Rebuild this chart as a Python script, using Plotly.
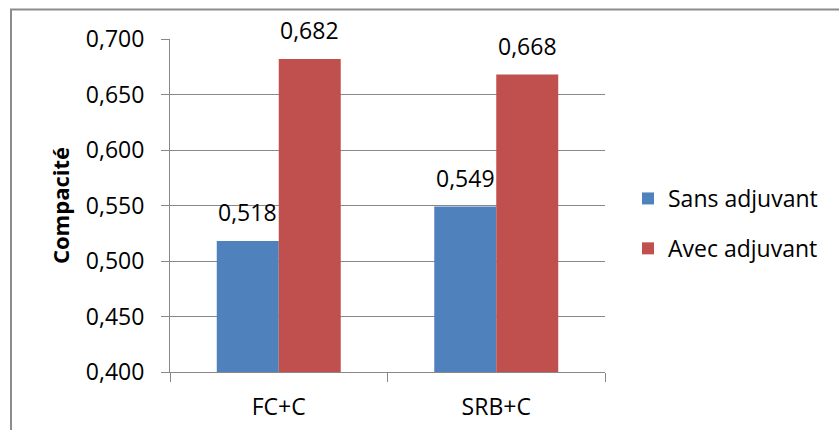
import plotly.graph_objects as go

# Compacité des mélanges, avec et sans adjuvant
categories = ["FC+C", "SRB+C"]
sans_adjuvant = [0.518, 0.549]
avec_adjuvant = [0.682, 0.668]
series_names = ["Sans adjuvant", "Avec adjuvant"]
y_ticks = [0.400, 0.450, 0.500, 0.550, 0.600, 0.650, 0.700]

BLUE = "#4F81BD"
RED = "#C0504D"
GRID = "#888888"
FONT = "Open Sans"
FS = 23

W, H = 839, 430
L, R, T, B = 170, 234, 39, 58
plot_w = W - L - R
plot_h = H - T - B


def fmt(v):
    return f"{v:.3f}".replace(".", ",")


fig = go.Figure()
fig.add_trace(go.Bar(x=categories, y=sans_adjuvant, name=series_names[0],
                     marker=dict(color=BLUE, line=dict(width=0)),
                     legendgroup="a"))
fig.add_trace(go.Bar(x=categories, y=avec_adjuvant, name=series_names[1],
                     marker=dict(color=RED, line=dict(width=0)),
                     legendgroup="b"))

# value labels above each bar
bar_px = plot_w / len(categories) * (1 - 0.43) / 2
annotations = []
for vals, sign in ((sans_adjuvant, -1), (avec_adjuvant, 1)):
    for cat, v in zip(categories, vals):
        annotations.append(dict(
            x=cat, y=v, xref="x", yref="y", text=fmt(v), showarrow=False,
            xshift=sign * bar_px / 2, yshift=11, yanchor="bottom",
            font=dict(family=FONT, size=FS, color="#000000")))

# chart border (extends past the right and bottom edges)
px2x = lambda p: (p - L) / plot_w
py2y = lambda p: (H - B - p) / plot_h
shapes = [dict(type="rect", xref="paper", yref="paper",
               x0=px2x(11), x1=px2x(W + 20), y0=py2y(H + 20), y1=py2y(9.5),
               line=dict(color="#8c8c8c", width=2), fillcolor="rgba(0,0,0,0)",
               layer="below")]

fig.update_layout(
    width=W, height=H,
    margin=dict(l=L, r=R, t=T, b=B, autoexpand=False),
    paper_bgcolor="white", plot_bgcolor="white",
    separators=", ",
    barmode="group", bargap=0.43, bargroupgap=0,
    font=dict(family=FONT, size=FS, color="#000000"),
    showlegend=True,
    legend=dict(x=px2x(628), xanchor="left", y=py2y(223.5), yanchor="middle",
                traceorder="grouped", tracegroupgap=17,
                font=dict(family=FONT, size=FS), bgcolor="rgba(0,0,0,0)",
                itemclick=False),
    annotations=annotations,
    shapes=shapes,
)

fig.update_xaxes(
    type="category", tickson="boundaries", ticks="outside", ticklen=9,
    tickcolor=GRID, showline=True, linecolor=GRID, linewidth=1,
    showgrid=False, ticklabelstandoff=14,
    tickfont=dict(family=FONT, size=FS), automargin=False)

fig.update_yaxes(
    range=[0.4, 0.7], tickvals=y_ticks, tickformat=".3f",
    ticks="outside", ticklen=8, tickcolor=GRID,
    showline=True, linecolor=GRID, linewidth=1,
    showgrid=True, gridcolor=GRID, gridwidth=1, zeroline=False,
    ticklabelstandoff=12,
    tickfont=dict(family=FONT, size=FS), automargin=False,
    title=dict(text="<b>Compacité</b>", standoff=10,
               font=dict(family=FONT, size=22)))

fig.write_html("out.html")
